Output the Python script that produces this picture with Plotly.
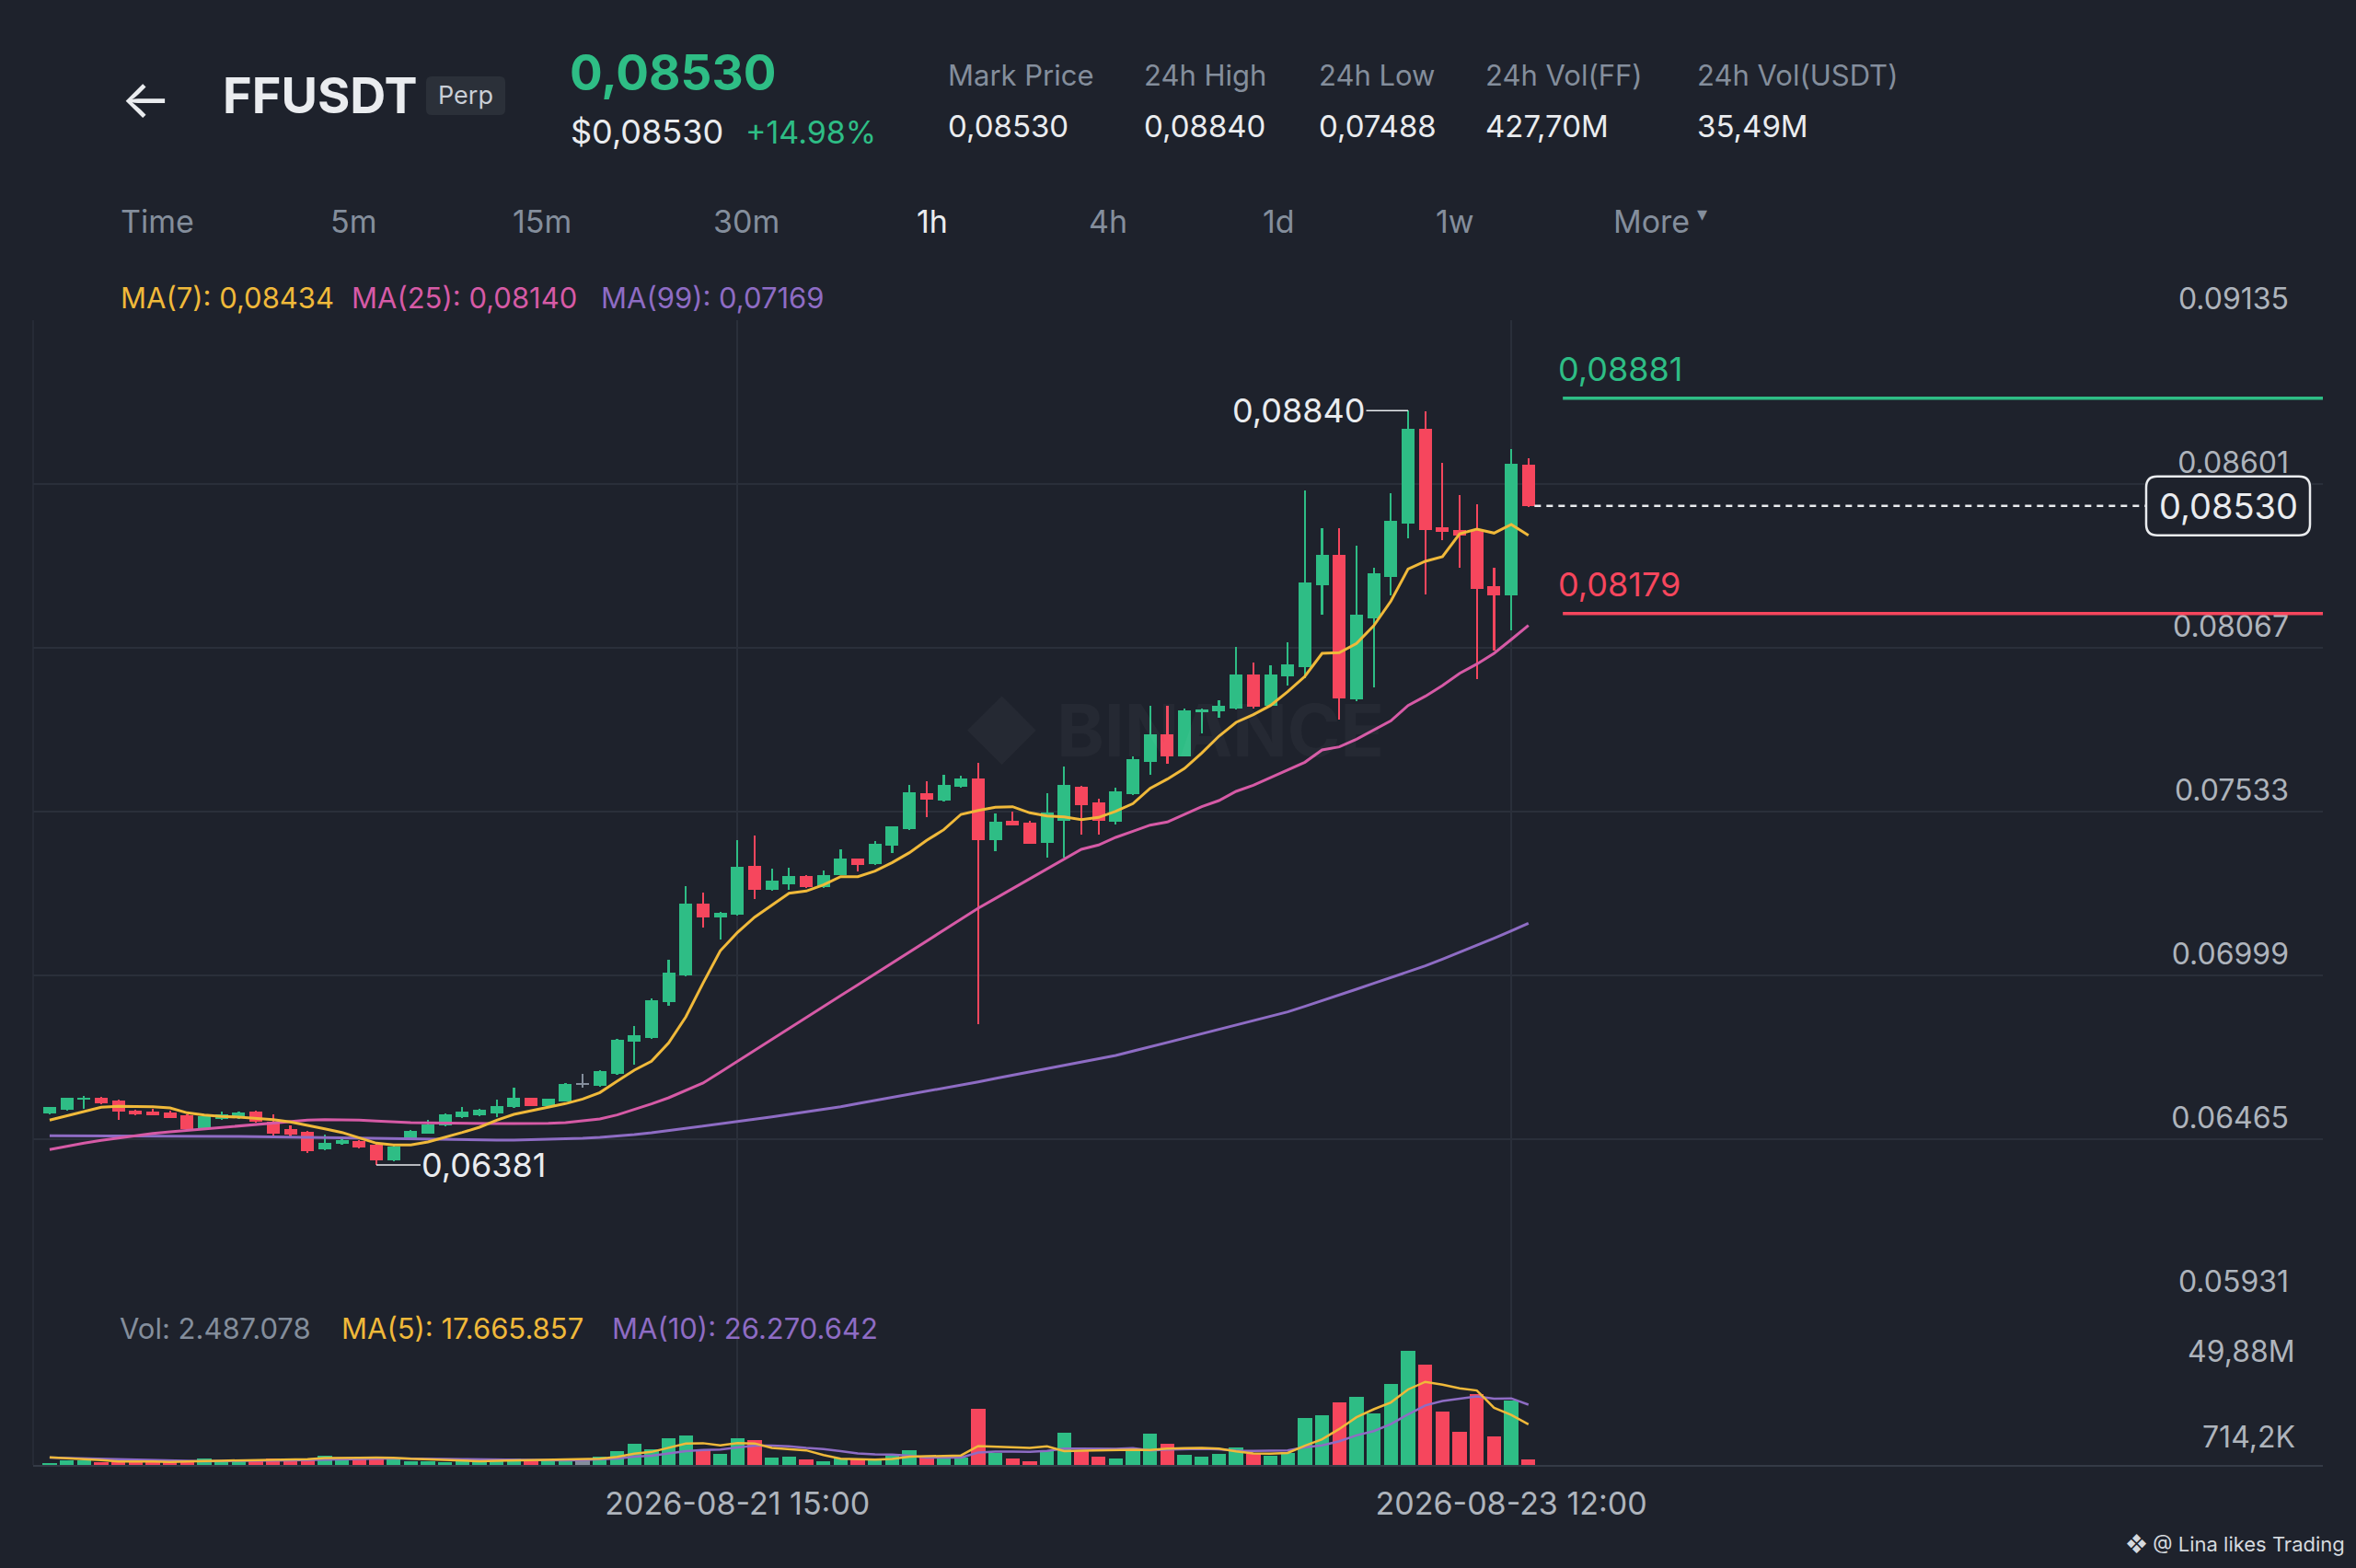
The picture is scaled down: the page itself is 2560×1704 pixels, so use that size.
import pandas as pd
import plotly.graph_objects as go

# Binance-style 1h chart of FFUSDT perp, price pane + volume pane

W, H = 2560, 1704
BG = "#1e222c"
GRID = "#2a2f3a"
GREEN = "#2ebd85"
RED = "#f6465d"
DOJI = "#848e9c"
YELLOW = "#f0b93a"
PINK = "#d65aa6"
PURPLE = "#8e6cc4"
WHITE = "#eaecef"
GRAY = "#848e9c"
AXIS_TXT = "#aeb4bc"
FONT = "Inter, Roboto, 'Noto Sans', sans-serif"

# ---- data ----
times = pd.date_range("2026-08-19 23:00", periods=87, freq="h")

opens = [0.06549, 0.06561, 0.06594, 0.06599, 0.06591, 0.06557, 0.06556, 0.06551, 0.06542, 0.06502,
         0.06531, 0.06534, 0.06554, 0.06521, 0.06499, 0.06489, 0.06431, 0.06449, 0.06459, 0.06446,
         0.06396, 0.06464, 0.06484, 0.06509, 0.06537, 0.06544, 0.06549, 0.06569, 0.06599, 0.06574,
         0.06589, 0.06644, 0.06639, 0.06678, 0.06784, 0.06794, 0.06911, 0.06999, 0.07234, 0.07189,
         0.07197, 0.07357, 0.07277, 0.07297, 0.07322, 0.07287, 0.07327, 0.07379, 0.07361, 0.07421,
         0.07476, 0.07594, 0.07569, 0.07614, 0.07641, 0.07439, 0.07504, 0.07497, 0.07431, 0.07504,
         0.07614, 0.07564, 0.07499, 0.07589, 0.07694, 0.07784, 0.07714, 0.07857, 0.07859, 0.07869,
         0.07979, 0.07879, 0.07974, 0.08004, 0.08271, 0.08371, 0.07899, 0.08164, 0.08299, 0.08471,
         0.08782, 0.08461, 0.08451, 0.08449, 0.08267, 0.08239, 0.08664]
highs = [0.06571, 0.06601, 0.06607, 0.06602, 0.06594, 0.06560, 0.06564, 0.06557, 0.06546, 0.06541,
         0.06554, 0.06556, 0.06559, 0.06547, 0.06511, 0.06491, 0.06479, 0.06474, 0.06462, 0.06449,
         0.06444, 0.06494, 0.06529, 0.06548, 0.06569, 0.06563, 0.06594, 0.06634, 0.06601, 0.06598,
         0.06649, 0.06679, 0.06689, 0.06791, 0.06834, 0.06924, 0.07051, 0.07289, 0.07269, 0.07205,
         0.07441, 0.07454, 0.07346, 0.07351, 0.07325, 0.07342, 0.07409, 0.07381, 0.07437, 0.07486,
         0.07619, 0.07631, 0.07652, 0.07651, 0.07691, 0.07527, 0.07534, 0.07504, 0.07594, 0.07679,
         0.07617, 0.07574, 0.07612, 0.07712, 0.07879, 0.07879, 0.07869, 0.07869, 0.07897, 0.08069,
         0.08019, 0.08009, 0.08084, 0.08581, 0.08457, 0.08457, 0.08401, 0.08329, 0.08571, 0.08840,
         0.08839, 0.08671, 0.08564, 0.08534, 0.08329, 0.08714, 0.08684]
lows = [0.06547, 0.06559, 0.06564, 0.06579, 0.06527, 0.06542, 0.06543, 0.06533, 0.06496, 0.06500,
        0.06528, 0.06532, 0.06519, 0.06477, 0.06474, 0.06419, 0.06429, 0.06447, 0.06434, 0.06381,
        0.06393, 0.06462, 0.06482, 0.06507, 0.06535, 0.06539, 0.06536, 0.06567, 0.06572, 0.06572,
        0.06587, 0.06634, 0.06637, 0.06676, 0.06709, 0.06792, 0.06901, 0.06997, 0.07156, 0.07116,
        0.07195, 0.07249, 0.07275, 0.07279, 0.07285, 0.07285, 0.07325, 0.07337, 0.07359, 0.07397,
        0.07474, 0.07516, 0.07567, 0.07612, 0.06839, 0.07404, 0.07487, 0.07427, 0.07384, 0.07384,
        0.07459, 0.07459, 0.07490, 0.07587, 0.07654, 0.07689, 0.07712, 0.07789, 0.07839, 0.07867,
        0.07869, 0.07877, 0.07944, 0.07969, 0.08174, 0.07834, 0.07894, 0.07939, 0.08239, 0.08424,
        0.08242, 0.08419, 0.08327, 0.07964, 0.08059, 0.08124, 0.08527]
closes = [0.06569, 0.06599, 0.06601, 0.06582, 0.06554, 0.06547, 0.06544, 0.06534, 0.06499, 0.06539,
          0.06547, 0.06552, 0.06521, 0.06484, 0.06479, 0.06426, 0.06454, 0.06461, 0.06439, 0.06396,
          0.06442, 0.06492, 0.06514, 0.06546, 0.06554, 0.06561, 0.06574, 0.06599, 0.06574, 0.06596,
          0.06644, 0.06644, 0.06686, 0.06789, 0.06803, 0.06919, 0.07007, 0.07234, 0.07189, 0.07202,
          0.07354, 0.07277, 0.07307, 0.07322, 0.07287, 0.07326, 0.07381, 0.07359, 0.07429, 0.07484,
          0.07596, 0.07571, 0.07619, 0.07641, 0.07439, 0.07501, 0.07489, 0.07429, 0.07529, 0.07619,
          0.07554, 0.07504, 0.07599, 0.07704, 0.07784, 0.07714, 0.07864, 0.07867, 0.07879, 0.07979,
          0.07874, 0.07979, 0.08014, 0.08279, 0.08371, 0.07901, 0.08174, 0.08309, 0.08481, 0.08782,
          0.08451, 0.08444, 0.08434, 0.08259, 0.08239, 0.08666, 0.08530]

ma7 = [0.06527, 0.06541, 0.06554, 0.06569, 0.06572, 0.06571, 0.06571, 0.06567, 0.06551, 0.06544,
       0.06539, 0.06537, 0.06534, 0.06529, 0.06521, 0.06511, 0.06499, 0.06487, 0.06469, 0.06452,
       0.06446, 0.06446, 0.06456, 0.06471, 0.06487, 0.06504, 0.06527, 0.06546, 0.06557, 0.06569,
       0.06581, 0.06596, 0.06617, 0.06654, 0.06690, 0.06719, 0.06779, 0.06864, 0.06974, 0.07079,
       0.07139, 0.07189, 0.07229, 0.07267, 0.07274, 0.07294, 0.07321, 0.07321, 0.07339, 0.07367,
       0.07399, 0.07439, 0.07474, 0.07524, 0.07537, 0.07547, 0.07549, 0.07529, 0.07519, 0.07516,
       0.07507, 0.07514, 0.07534, 0.07559, 0.07609, 0.07639, 0.07674, 0.07724, 0.07779, 0.07824,
       0.07849, 0.07879, 0.07924, 0.07974, 0.08049, 0.08051, 0.08081, 0.08139, 0.08219, 0.08324,
       0.08349, 0.08364, 0.08439, 0.08454, 0.08441, 0.08469, 0.08434]
ma25 = [0.06431, 0.06442, 0.06452, 0.06461, 0.06469, 0.06477, 0.06484, 0.06489, 0.06494, 0.06499,
        0.06504, 0.06509, 0.06514, 0.06519, 0.06523, 0.06527, 0.06529, 0.06529, 0.06527, 0.06524,
        0.06521, 0.06519, 0.06518, 0.06517, 0.06517, 0.06517, 0.06516, 0.06516, 0.06516, 0.06517,
        0.06519, 0.06524, 0.06531, 0.06544, 0.06561, 0.06580, 0.06600, 0.06623, 0.06648, 0.06683,
        0.06719, 0.06754, 0.06790, 0.06826, 0.06861, 0.06897, 0.06933, 0.06968, 0.07004, 0.07040,
        0.07075, 0.07111, 0.07146, 0.07183, 0.07218, 0.07250, 0.07282, 0.07314, 0.07346, 0.07378,
        0.07410, 0.07424, 0.07449, 0.07469, 0.07489, 0.07499, 0.07524, 0.07549, 0.07569, 0.07599,
        0.07619, 0.07644, 0.07669, 0.07694, 0.07734, 0.07744, 0.07769, 0.07799, 0.07829, 0.07879,
        0.07909, 0.07944, 0.07984, 0.08014, 0.08049, 0.08094, 0.08140]
ma99 = [0.06476, 0.06476, 0.06476, 0.06476, 0.06476, 0.06476, 0.06476, 0.06475, 0.06475, 0.06475,
        0.06474, 0.06474, 0.06473, 0.06473, 0.06472, 0.06471, 0.06470, 0.06469, 0.06468, 0.06467,
        0.06466, 0.06465, 0.06464, 0.06463, 0.06462, 0.06462, 0.06462, 0.06462, 0.06463, 0.06464,
        0.06466, 0.06468, 0.06471, 0.06475, 0.06480, 0.06486, 0.06493, 0.06500, 0.06507, 0.06514,
        0.06522, 0.06530, 0.06538, 0.06546, 0.06553, 0.06561, 0.06571, 0.06581, 0.06591, 0.06600,
        0.06610, 0.06620, 0.06631, 0.06642, 0.06652, 0.06663, 0.06674, 0.06684, 0.06695, 0.06705,
        0.06716, 0.06727, 0.06738, 0.06752, 0.06766, 0.06781, 0.06795, 0.06809, 0.06823, 0.06838,
        0.06852, 0.06866, 0.06880, 0.06898, 0.06916, 0.06935, 0.06954, 0.06973, 0.06992, 0.07011,
        0.07030, 0.07052, 0.07074, 0.07097, 0.07120, 0.07144, 0.07169]

# volume in millions
volumes = [0.67, 2.01, 2.01, 1.34, 1.34, 1.34, 1.34, 1.34, 1.60, 2.94,
           2.01, 1.74, 2.27, 2.94, 2.67, 2.94, 4.01, 3.34, 2.67, 2.94,
           2.67, 1.74, 1.74, 1.34, 1.60, 1.74, 2.41, 2.67, 1.74, 2.41,
           2.94, 2.67, 3.61, 6.02, 9.36, 6.69, 11.63, 12.97, 6.69, 4.68,
           11.77, 10.70, 3.34, 3.74, 2.27, 1.60, 2.67, 2.27, 2.67, 4.01,
           6.28, 3.61, 3.34, 3.34, 24.47, 5.08, 2.67, 1.74, 6.42, 14.04,
           6.28, 3.61, 2.67, 6.42, 13.77, 9.09, 4.41, 3.61, 4.68, 7.75,
           4.68, 4.01, 5.08, 20.46, 21.66, 27.14, 29.68, 22.33, 35.43, 49.88,
           43.72, 23.40, 14.44, 30.75, 12.30, 28.08, 2.49]
vol_ma5 = [3.30, 3.00, 2.70, 2.10, 1.47, 1.61, 1.47, 1.34, 1.39, 1.71,
           1.85, 1.93, 2.11, 2.38, 2.33, 2.51, 2.97, 3.18, 3.13, 3.18,
           3.13, 2.67, 2.35, 2.09, 1.82, 1.63, 1.77, 1.95, 2.03, 2.19,
           2.43, 2.49, 2.67, 3.53, 4.92, 5.67, 7.46, 9.33, 9.47, 8.53,
           9.55, 9.36, 7.44, 6.85, 6.36, 4.33, 2.72, 2.51, 2.30, 2.64,
           3.58, 3.77, 3.98, 4.12, 8.21, 7.97, 7.78, 7.46, 8.08, 5.99,
           6.23, 6.42, 6.60, 6.60, 6.55, 7.11, 7.27, 7.46, 7.11, 5.91,
           5.03, 4.95, 5.24, 8.40, 11.18, 15.67, 20.80, 24.25, 27.25, 32.89,
           36.21, 34.95, 33.37, 32.44, 24.92, 21.79, 17.67]
vol_ma10 = [3.20, 3.00, 2.80, 2.60, 2.40, 2.20, 2.00, 1.90, 1.80, 1.59,
            1.73, 1.70, 1.73, 1.89, 2.02, 2.18, 2.45, 2.65, 2.75, 2.75,
            2.82, 2.82, 2.77, 2.61, 2.50, 2.38, 2.22, 2.15, 2.06, 2.01,
            2.03, 2.13, 2.31, 2.78, 3.56, 4.05, 4.97, 6.00, 6.50, 6.73,
            7.61, 8.41, 8.39, 8.16, 7.45, 6.94, 6.04, 4.97, 4.57, 4.50,
            3.96, 3.25, 3.25, 3.21, 5.43, 5.77, 5.77, 5.72, 6.10, 7.10,
            7.10, 7.10, 7.03, 7.34, 6.27, 6.67, 6.85, 7.03, 6.86, 6.23,
            6.07, 6.11, 6.35, 7.75, 8.54, 10.35, 12.88, 14.75, 17.82, 22.04,
            25.94, 27.88, 28.81, 29.84, 28.91, 29.00, 26.28]

price_ticks = [0.09135, 0.08601, 0.08067, 0.07533, 0.06999, 0.06465, 0.05931]
upper_level = 0.08881
lower_level = 0.08179
last_price = closes[-1]

stats = [("Mark Price", "0,08530"), ("24h High", "0,08840"), ("24h Low", "0,07488"),
         ("24h Vol(FF)", "427,70M"), ("24h Vol(USDT)", "35,49M")]
intervals = ["Time", "5m", "15m", "30m", "1h", "4h", "1d", "1w", "More"]

HOUR = pd.Timedelta(hours=1)
HOUR_MS = 3600 * 1000
t0 = times[0]
x_range = [t0 - 0.96 * HOUR, t0 + 132.2 * HOUR]


def fmt(v):
    return f"{v:.5f}".replace(".", ",")


def px(x):
    return x / W


def py(y):
    return 1 - y / H


colors = [GREEN if c > o else RED if c < o else DOJI for o, c in zip(opens, closes)]

fig = go.Figure()

# wicks
fig.add_trace(go.Bar(x=times, y=[h - l for h, l in zip(highs, lows)], base=lows,
                     width=0.12 * HOUR_MS, marker=dict(color=colors, line_width=0),
                     xaxis="x", yaxis="y"))
# bodies
fig.add_trace(go.Bar(x=times, y=[max(abs(c - o), 0.00003) for o, c in zip(opens, closes)],
                     base=[min(o, c) for o, c in zip(opens, closes)],
                     width=0.75 * HOUR_MS, marker=dict(color=colors, line_width=0),
                     xaxis="x", yaxis="y"))

for vals, col in [(ma99, PURPLE), (ma25, PINK), (ma7, YELLOW)]:
    fig.add_trace(go.Scatter(x=times, y=vals, mode="lines", line=dict(color=col, width=3),
                             xaxis="x", yaxis="y"))

# volume pane
fig.add_trace(go.Bar(x=times, y=volumes, width=0.82 * HOUR_MS,
                     marker=dict(color=colors, line_width=0), xaxis="x2", yaxis="y2"))
for vals, col in [(vol_ma10, PURPLE), (vol_ma5, YELLOW)]:
    fig.add_trace(go.Scatter(x=times, y=vals, mode="lines", line=dict(color=col, width=2.5),
                             xaxis="x2", yaxis="y2"))

grid_ticks = [times[40], times[85]]

fig.update_layout(
    width=W, height=H,
    margin=dict(l=0, r=0, t=0, b=0, autoexpand=False),
    paper_bgcolor=BG, plot_bgcolor=BG,
    showlegend=False, hovermode=False,
    barmode="overlay", bargap=0,
    font=dict(family=FONT, color=WHITE),
    xaxis=dict(domain=[px(36), px(2524)], range=x_range, type="date", automargin=False,
               tickvals=grid_ticks, showticklabels=False, showgrid=True,
               gridcolor=GRID, gridwidth=1.5, zeroline=False, anchor="y"),
    yaxis=dict(domain=[py(1416), py(348)], range=[price_ticks[-1], price_ticks[0]],
               side="right", anchor="x", tickvals=price_ticks, tickformat=".5f", automargin=False,
               ticklabelposition="inside", ticklabelshift=-23, ticklabelstandoff=34,
               ticklabeloverflow="allow", ticks="",
               tickfont=dict(size=32, color=AXIS_TXT, family=FONT),
               showgrid=True, gridcolor=GRID, gridwidth=1.5, zeroline=False),
    xaxis2=dict(domain=[px(36), px(2524)], range=x_range, type="date", matches="x",
                anchor="y2", tickvals=grid_ticks, automargin=False,
                ticktext=[t.strftime("%Y-%m-%d %H:%M") for t in grid_ticks],
                ticks="", ticklabelstandoff=11,
                tickfont=dict(size=34, color=AXIS_TXT, family=FONT),
                showgrid=True, gridcolor=GRID, gridwidth=1.5, zeroline=False,
                showline=True, linecolor="#343a46", linewidth=2),
    yaxis2=dict(domain=[py(1592), py(1416)], range=[0, 70.57], anchor="x2", automargin=False,
                showticklabels=False, showgrid=False, zeroline=False),
)

# left border of the chart
fig.add_shape(type="line", xref="paper", yref="paper", x0=px(36), x1=px(36), y0=py(348), y1=py(1592),
              line=dict(color=GRID, width=1.5))


def label(x, y, text, size, color, anchor="left", bold=False):
    fig.add_annotation(x=px(x), y=py(y), xref="paper", yref="paper", text=text, showarrow=False,
                       xanchor=anchor, yanchor="middle",
                       font=dict(family=FONT, size=size, color=color, weight=700 if bold else 400))


def rounded_box(xc, yc, yref, w, h, r, fill, line_col, line_w):
    a, b = w / 2, h / 2
    path = (f"M {-a + r},{b} L {a - r},{b} Q {a},{b} {a},{b - r} L {a},{-b + r} Q {a},{-b} {a - r},{-b} "
            f"L {-a + r},{-b} Q {-a},{-b} {-a},{-b + r} L {-a},{b - r} Q {-a},{b} {-a + r},{b} Z")
    fig.add_shape(type="path", path=path, xref="paper", xsizemode="pixel", xanchor=xc,
                  yref=yref, ysizemode="pixel", yanchor=yc, fillcolor=fill,
                  line=dict(color=line_col, width=line_w), layer="above")


# header
label(158, 107, "←", 58, WHITE, "center")
label(240, 103, "FFUSDT", 54, WHITE, bold=True)
rounded_box(px(506), py(104), "paper", 86, 42, 6, "#2b3039", "#2b3039", 0)
label(506, 103, "Perp", 27, "#c9ced6", "center")
label(617, 79, "0,08530", 53, GREEN, bold=True)
label(618, 143, "$0,08530", 36, WHITE)
label(808, 143, "+14.98%", 34, GREEN)
for (name, val), x in zip(stats, [1028, 1241, 1431, 1612, 1842]):
    label(x, 82, name, 31, GRAY)
    label(x, 137, val, 33, WHITE)
for name, x in zip(intervals, [129, 357, 555, 773, 994, 1181, 1370, 1558, 1751]):
    label(x, 240, name, 34, WHITE if name == "1h" else GRAY)
label(1842, 232, "▾", 22, GRAY)

# MA legends
label(129, 323, f"MA(7): {fmt(ma7[-1])}", 31, YELLOW)
label(380, 323, f"MA(25): {fmt(ma25[-1])}", 31, PINK)
label(651, 323, f"MA(99): {fmt(ma99[-1])}", 31, PURPLE)
label(128, 1443, "Vol: 2.487.078", 31, GRAY)
label(369, 1443, "MA(5): 17.665.857", 31, YELLOW)
label(663, 1443, "MA(10): 26.270.642", 31, PURPLE)

# volume axis labels
label(2496, 1468, "49,88M", 32, AXIS_TXT, "right")
label(2496, 1561, "714,2K", 32, AXIS_TXT, "right")

# watermark
label(1275, 793, "◆ BINANCE", 78, "rgba(255,255,255,0.035)", "center", bold=True)

# credit
label(2550, 1678, "❖ @ Lina likes Trading", 22, "#d5d9de", "right")

# high / low markers
hi_i = highs.index(max(highs))
lo_i = lows.index(min(lows))
fig.add_annotation(x=times[hi_i], y=highs[hi_i], xref="x", yref="y", text=fmt(highs[hi_i]),
                   showarrow=True, arrowhead=0, arrowwidth=1.5, arrowcolor=WHITE, ax=-119, ay=0,
                   standoff=0, font=dict(family=FONT, size=36, color=WHITE))
fig.add_annotation(x=times[lo_i], y=lows[lo_i], xref="x", yref="y", text=fmt(lows[lo_i]),
                   showarrow=True, arrowhead=0, arrowwidth=1.5, arrowcolor=WHITE, ax=117, ay=0,
                   standoff=0, font=dict(family=FONT, size=36, color=WHITE))

# level lines
for lvl, col in [(upper_level, GREEN), (lower_level, RED)]:
    fig.add_shape(type="line", xref="x", yref="y", x0=t0 + 88 * HOUR, x1=x_range[1], y0=lvl, y1=lvl,
                  line=dict(color=col, width=3.5))
    fig.add_annotation(x=t0 + 87.6 * HOUR, y=lvl, xref="x", yref="y", text=fmt(lvl), showarrow=False,
                       xanchor="left", yanchor="middle", yshift=32,
                       font=dict(family=FONT, size=36, color=col))

# last price line + tag
fig.add_shape(type="line", xref="x", yref="y", x0=times[-1] + 0.35 * HOUR, x1=t0 + 122 * HOUR,
              y0=last_price, y1=last_price, line=dict(color=WHITE, width=2.5, dash="7px,6px"))
rounded_box(px(2421), last_price, "y", 178, 64, 12, BG, WHITE, 2.5)
fig.add_annotation(x=px(2421), y=last_price, xref="paper", yref="y", text=fmt(last_price),
                   showarrow=False, xanchor="center", yanchor="middle",
                   font=dict(family=FONT, size=38, color=WHITE))

fig.write_html("out.html", config={"displayModeBar": False},
               post_script="document.body.style.margin='0';document.body.style.overflow='hidden';")
